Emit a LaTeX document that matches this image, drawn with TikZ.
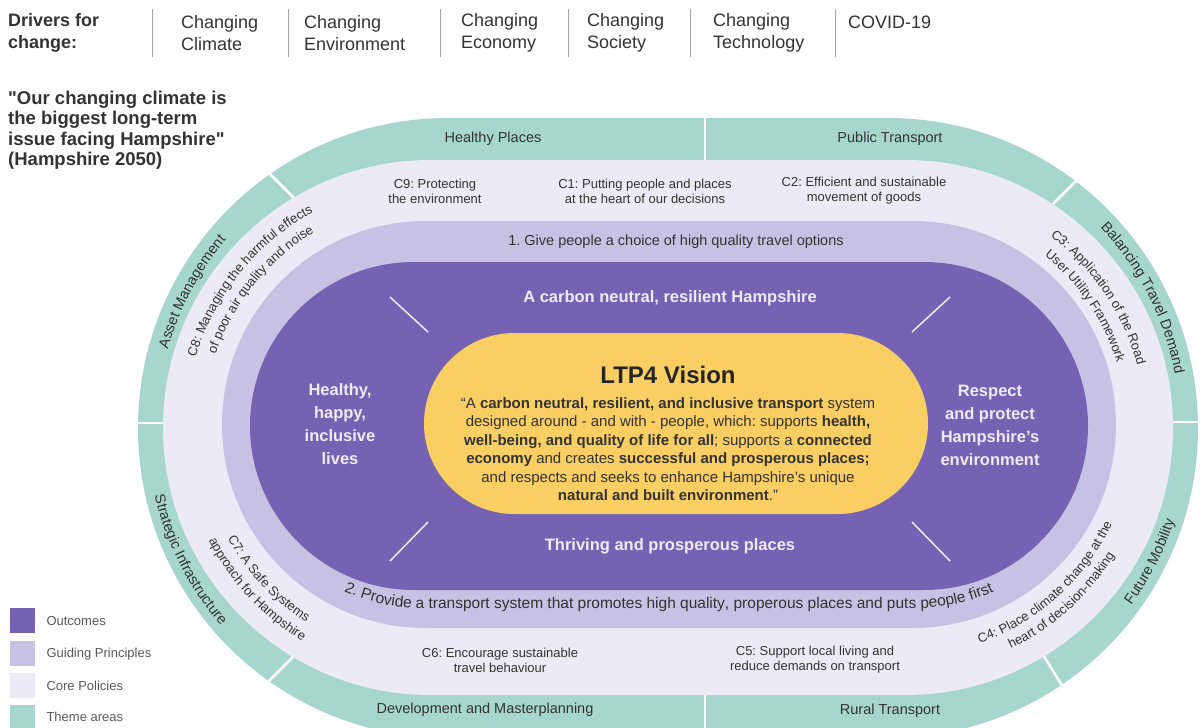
\documentclass[tikz,border=0pt]{standalone}
\usepackage{fontspec}
\setmainfont{Liberation Sans}[Ligatures=TeXOff]
\usetikzlibrary{calc,decorations.text}
\frenchspacing
\definecolor{theme}{RGB}{166,214,205}
\definecolor{core}{RGB}{236,234,246}
\definecolor{guide}{RGB}{199,194,227}
\definecolor{outcome}{RGB}{117,98,179}
\definecolor{vision}{RGB}{249,206,99}
\definecolor{outtext}{RGB}{238,235,249}
\definecolor{txt}{RGB}{51,51,51}
\definecolor{rule}{RGB}{165,165,165}
\def\headfont{\fontsize{18}{22}\selectfont}
\def\quotefont{\fontsize{18.5}{20.5}\selectfont\bfseries}
\def\themefont{\fontsize{14.5}{17}\selectfont}
\def\corefont{\fontsize{13}{15}\selectfont}
\def\guidefont{\fontsize{14.5}{17}\selectfont}
\def\outfont{\fontsize{16.5}{23}\selectfont\bfseries}
\def\keyfont{\fontsize{13}{15}\selectfont}
\def\stadium[#1](#2,#3)(#4,#5){\fill[#1] ({#2+(#5-#3)/2},#3) -- ({#4-(#5-#3)/2},#3) arc (270:450:{(#5-#3)/2}) -- ({#2+(#5-#3)/2},#5) arc (90:270:{(#5-#3)/2}) -- cycle;}
\def\arctext[#1](#2)(#3:#4:#5)#6{\path[decorate,decoration={text along path,text align=center,text={|#1|#6}}] ($(#2)+({#5*cos(#3)},{#5*sin(#3)})$) arc (#3:#4:#5);}
\tikzset{
  head/.style={anchor=west, align=left, inner sep=0pt, font=\headfont, text=txt},
  themelabel/.style={font=\themefont, text=txt},
  corelabel/.style={align=center, font=\corefont, text=txt},
  outlabel/.style={align=center, font=\outfont, text=outtext},
  keylabel/.style={anchor=west, font=\keyfont, text=black!65},
  divider/.style={white, line width=2.5pt},
  spoke/.style={outtext, line width=1.5pt}
}
\begin{document}
\begin{tikzpicture}[x=1pt,y=-1pt]
		%%%%% START %%%%%
		\useasboundingbox (0,0) rectangle (1203,728);
		\clip (0,0) rectangle (1203,728);
		
		% drivers for change
		\node[head,font=\headfont\bfseries] (drivers) at (8,33) {Drivers for\\change:};
		\foreach \x in {152,288,440,568,690,835}
			\draw[rule,line width=1pt] (\x,9) -- (\x,57);
		\node[head] (climate) at (181,33) {Changing\\Climate};
		\node[head] (environment) at (304,33) {Changing\\Environment};
		\node[head] (economy) at (461,33) {Changing\\Economy};
		\node[head] (society) at (587,33) {Changing\\Society};
		\node[head] (technology) at (713,33) {Changing\\Technology};
		\node[head] (covid) at (848,22) {COVID-19};
		
		\node[head,font=\quotefont] (quote) at (8,130) {"Our changing climate is\\the biggest long-term\\issue facing Hampshire"\\(Hampshire 2050)};
		
		% rings
		\stadium[theme](138,118)(1198,738)
		\draw[divider] (705,110) -- (705,170);
		\draw[divider] (705,680) -- (705,745);
		\draw[divider] (125,423) -- (175,423);
		\draw[divider] (1160,422) -- (1215,422);
		\draw[divider] (255,159) -- (300,204);
		\draw[divider] (1050,207) -- (1090,167);
		\draw[divider] (260,690) -- (305,645);
		\draw[divider] (1035,642) -- (1063,687);
		\stadium[core](163,160)(1173,695)
		\stadium[guide](222,221)(1116,628)
		\stadium[outcome](250,262)(1088,590)
		\draw[spoke] (390,297) -- (428,332);
		\draw[spoke] (390,561) -- (428,522);
		\draw[spoke] (950,297) -- (912,332);
		\draw[spoke] (950,561) -- (912,522);
		\stadium[vision](424,333)(928,514)
		
		\coordinate (tl) at (448,428);
		\coordinate (tr) at (888,428);
		\coordinate (cl) at (430.5,427.5);
		\coordinate (cr) at (905.5,427.5);
		\coordinate (gl) at (420,426);
		\coordinate (gr) at (918,426);
		
		% theme areas
		\node[themelabel] (healthy) at (493,139) {Healthy Places};
		\node[themelabel] (public) at (890,139) {Public Transport};
		\node[themelabel] (devel) at (485,710) {Development and Masterplanning};
		\node[themelabel] (rural) at (890,711) {Rural Transport};
		\arctext[\themefont\color{txt}](tl)(178:238:291){Asset Management}
		\arctext[\themefont\color{txt}](tl)(183:123:301){Strategic Infrastructure}
		\arctext[\themefont\color{txt}](tr)(303:363:292){Balancing Travel Demand}
		\arctext[\themefont\color{txt}](tr)(57:-3:301){Future Mobility}
		
		% core policies
		\node[corelabel] (c9) at (435,191) {C9: Protecting\\the environment};
		\node[corelabel] (c1) at (645,191) {C1: Putting people and places\\at the heart of our decisions};
		\node[corelabel] (c2) at (864,191) {C2: Efficient and sustainable\\movement of goods};
		\node[corelabel] (c6) at (500,660) {C6: Encourage sustainable\\travel behaviour};
		\node[corelabel] (c5) at (815,660) {C5: Support local living and\\reduce demands on transport};
		\arctext[\corefont\color{txt}](cl)(184:254:245){C8: Managing the harmful effects}
		\arctext[\corefont\color{txt}](cl)(184:254:227){of poor air quality and noise}
		\arctext[\corefont\color{txt}](cl)(172:102:231){C7: A Safe Systems}
		\arctext[\corefont\color{txt}](cl)(172:102:249){approach for Hampshire}
		\arctext[\corefont\color{txt}](cr)(291:361:240){C3: Application of the Road}
		\arctext[\corefont\color{txt}](cr)(291:361:221){User Utility Framework}
		\arctext[\corefont\color{txt}](cr)(83:13:228){C4: Place climate change at the}
		\arctext[\corefont\color{txt}](cr)(83:13:245){heart of decision-making}
		
		% guiding principles
		\node[font=\guidefont,text=txt] (choice) at (676,242) {1. Give people a choice of high quality travel options};
		\path[decorate,decoration={text along path,text align=center,text={|\fontsize{15.5}{17}\selectfont\color{txt}|2. Provide a transport system that promotes high quality, properous places and puts people first}}] ($(gl)+({182*cos(150)},{182*sin(150)})$) arc (150:90:182) -- ($(gr)+(0,182)$) arc (90:30:182);
		
		% outcomes
		\node[outlabel] (carbon) at (670,298) {A carbon neutral, resilient Hampshire};
		\node[outlabel] (thriving) at (670,546) {Thriving and prosperous places};
		\node[outlabel] (lives) at (340,424) {Healthy,\\happy,\\inclusive\\lives};
		\node[outlabel] (respect) at (990,425) {Respect\\and protect\\Hampshire’s\\environment};
		
		% vision
		\node[font=\fontsize{24}{28}\selectfont\bfseries,text=black!85] (ltp) at (668,375) {LTP4 Vision};
		\node[align=center,font=\fontsize{15}{18.5}\selectfont,text=black!80] (statement) at (668,449) {“A \textbf{carbon neutral, resilient, and inclusive transport} system\\designed around - and with - people, which: supports \textbf{health,}\\\textbf{well-being, and quality of life for all}; supports a \textbf{connected}\\\textbf{economy} and creates \textbf{successful and prosperous places;}\\and respects and seeks to enhance Hampshire’s unique\\\textbf{natural and built environment}.”};
		
		% key
		\fill[outcome] (10,608) rectangle (35,633);
		\node[keylabel] (key1) at (43,621) {Outcomes};
		\fill[guide] (10,641) rectangle (35,666);
		\node[keylabel] (key2) at (43,654) {Guiding Principles};
		\fill[core] (10,673) rectangle (35,698);
		\node[keylabel] (key3) at (43,686) {Core Policies};
		\fill[theme] (10,705) rectangle (35,730);
		\node[keylabel] (key4) at (43,717) {Theme areas};
		
		%%%%% END %%%%%
\end{tikzpicture}
\end{document}
